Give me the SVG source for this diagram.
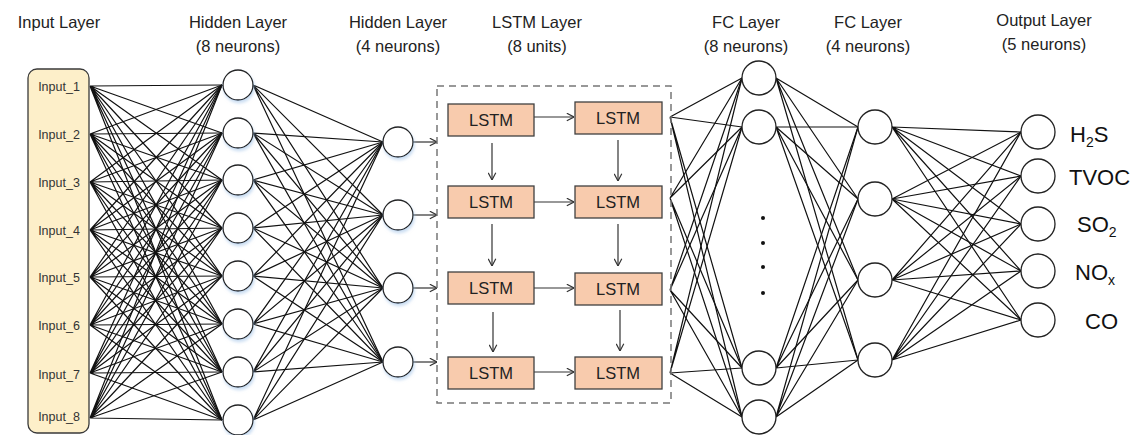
<svg xmlns="http://www.w3.org/2000/svg" width="1137" height="435" viewBox="0 0 1137 435">
<defs>
<style>
.t{font-family:"Liberation Sans",Arial,sans-serif;font-size:16.5px;fill:#222;text-anchor:middle}
.in{font-family:"Liberation Sans",Arial,sans-serif;font-size:12.5px;fill:#333;text-anchor:middle}
.out{font-family:"Liberation Sans",Arial,sans-serif;font-size:22px;fill:#111}
.sub{font-size:14px}
.lstm rect{fill:#f8cbad;stroke:#404040;stroke-width:1.3}
.lstm text{font-family:"Liberation Sans",Arial,sans-serif;font-size:16.5px;fill:#222;text-anchor:middle}
.n{fill:#fff;stroke:#222;stroke-width:1.3}
.sh{filter:url(#shadow)}
.c{fill:none;stroke:#111;stroke-width:1.2}
.a{fill:none;stroke:#333;stroke-width:1.2;marker-end:url(#arr)}
</style>
<filter id="shadow" x="-30%" y="-30%" width="160%" height="170%">
<feDropShadow dx="1" dy="2.5" stdDeviation="1.5" flood-color="#9cc0e6" flood-opacity="0.55"/>
</filter>
<marker id="arr" viewBox="0 0 10 10" refX="10" refY="5" markerWidth="9" markerHeight="9" markerUnits="userSpaceOnUse" orient="auto">
<path d="M2,0.8 L10,5 L2,9.2" fill="none" stroke="#333" stroke-width="1.3"/>
</marker>
</defs>
<rect width="1137" height="435" fill="#fff"/>

<g id="titles">
<text class="t" x="59" y="28">Input Layer</text>
<text class="t" x="238" y="28">Hidden Layer</text>
<text class="t" x="238" y="52">(8 neurons)</text>
<text class="t" x="398" y="28">Hidden Layer</text>
<text class="t" x="398" y="52">(4 neurons)</text>
<text class="t" x="537" y="28">LSTM Layer</text>
<text class="t" x="537" y="52">(8 units)</text>
<text class="t" x="746" y="28">FC Layer</text>
<text class="t" x="746" y="52">(8 neurons)</text>
<text class="t" x="868" y="28">FC Layer</text>
<text class="t" x="868" y="52">(4 neurons)</text>
<text class="t" x="1044" y="26">Output Layer</text>
<text class="t" x="1044" y="50">(5 neurons)</text>
</g>

<g id="connectors">
<path class="c" d="M90 86L222 85M90 86L222 133M90 86L222 180M90 86L222 228M90 86L222 276M90 86L222 324M90 86L222 372M90 86L222 420"/>
<path class="c" d="M90 134L222 85M90 134L222 133M90 134L222 180M90 134L222 228M90 134L222 276M90 134L222 324M90 134L222 372M90 134L222 420"/>
<path class="c" d="M90 182L222 85M90 182L222 133M90 182L222 180M90 182L222 228M90 182L222 276M90 182L222 324M90 182L222 372M90 182L222 420"/>
<path class="c" d="M90 230L222 85M90 230L222 133M90 230L222 180M90 230L222 228M90 230L222 276M90 230L222 324M90 230L222 372M90 230L222 420"/>
<path class="c" d="M90 277L222 85M90 277L222 133M90 277L222 180M90 277L222 228M90 277L222 276M90 277L222 324M90 277L222 372M90 277L222 420"/>
<path class="c" d="M90 325L222 85M90 325L222 133M90 325L222 180M90 325L222 228M90 325L222 276M90 325L222 324M90 325L222 372M90 325L222 420"/>
<path class="c" d="M90 373L222 85M90 373L222 133M90 373L222 180M90 373L222 228M90 373L222 276M90 373L222 324M90 373L222 372M90 373L222 420"/>
<path class="c" d="M90 418L222 85M90 418L222 133M90 418L222 180M90 418L222 228M90 418L222 276M90 418L222 324M90 418L222 372M90 418L222 420"/>

<path class="c" d="M253 85L383 142M253 85L383 215M253 85L383 288M253 85L383 362"/>
<path class="c" d="M253 133L383 142M253 133L383 215M253 133L383 288M253 133L383 362"/>
<path class="c" d="M253 180L383 142M253 180L383 215M253 180L383 288M253 180L383 362"/>
<path class="c" d="M253 228L383 142M253 228L383 215M253 228L383 288M253 228L383 362"/>
<path class="c" d="M253 276L383 142M253 276L383 215M253 276L383 288M253 276L383 362"/>
<path class="c" d="M253 324L383 142M253 324L383 215M253 324L383 288M253 324L383 362"/>
<path class="c" d="M253 372L383 142M253 372L383 215M253 372L383 288M253 372L383 362"/>
<path class="c" d="M253 420L383 142M253 420L383 215M253 420L383 288M253 420L383 362"/>

<path class="a" d="M413 142L437 142"/>
<path class="a" d="M413 215L437 215"/>
<path class="a" d="M413 288L437 288"/>
<path class="a" d="M413 362L437 362"/>

<path class="a" d="M534 117L574 117"/>
<path class="a" d="M534 202L574 202"/>
<path class="a" d="M534 288L574 288"/>
<path class="a" d="M534 372L574 372"/>
<path class="a" d="M492 143L492 180"/>
<path class="a" d="M492 224L492 266"/>
<path class="a" d="M493 312L493 352"/>
<path class="a" d="M618 140L618 181"/>
<path class="a" d="M618 224L618 266"/>
<path class="a" d="M620 310L620 351"/>

<path class="c" d="M670 117L742 78M670 117L742 127M670 117L742 368M670 117L742 417"/>
<path class="c" d="M670 198L742 78M670 198L742 127M670 198L742 368M670 198L742 417"/>
<path class="c" d="M670 290L742 78M670 290L742 127M670 290L742 368M670 290L742 417"/>
<path class="c" d="M670 373L742 78M670 373L742 127M670 373L742 368M670 373L742 417"/>

<path class="c" d="M776 78L858 127M776 78L858 199M776 78L858 280M776 78L858 360"/>
<path class="c" d="M776 127L858 127M776 127L858 199M776 127L858 280M776 127L858 360"/>
<path class="c" d="M776 368L858 127M776 368L858 199M776 368L858 280M776 368L858 360"/>
<path class="c" d="M776 417L858 127M776 417L858 199M776 417L858 280M776 417L858 360"/>

<path class="c" d="M892 127L1021 132M892 127L1021 176M892 127L1021 224M892 127L1021 271M892 127L1021 320"/>
<path class="c" d="M892 199L1021 132M892 199L1021 176M892 199L1021 224M892 199L1021 271M892 199L1021 320"/>
<path class="c" d="M892 280L1021 132M892 280L1021 176M892 280L1021 224M892 280L1021 271M892 280L1021 320"/>
<path class="c" d="M892 360L1021 132M892 360L1021 176M892 360L1021 224M892 360L1021 271M892 360L1021 320"/>
</g>

<g id="input-layer">
<rect x="28" y="69" width="61" height="364" rx="9" fill="#fdefc9" stroke="#3a3a3a" stroke-width="1.3"/>
<text class="in" x="59" y="91">Input_1</text>
<text class="in" x="59" y="139">Input_2</text>
<text class="in" x="59" y="187">Input_3</text>
<text class="in" x="59" y="235">Input_4</text>
<text class="in" x="59" y="282">Input_5</text>
<text class="in" x="59" y="330">Input_6</text>
<text class="in" x="59" y="379">Input_7</text>
<text class="in" x="59" y="421">Input_8</text>
</g>

<g id="hidden1" class="sh">
<circle class="n" cx="238" cy="85" r="15"/>
<circle class="n" cx="238" cy="133" r="15"/>
<circle class="n" cx="238" cy="180" r="15"/>
<circle class="n" cx="238" cy="228" r="15"/>
<circle class="n" cx="238" cy="276" r="15"/>
<circle class="n" cx="238" cy="324" r="15"/>
<circle class="n" cx="238" cy="372" r="15"/>
<circle class="n" cx="238" cy="420" r="15"/>
</g>

<g id="hidden2" class="sh">
<circle class="n" cx="398" cy="142" r="15"/>
<circle class="n" cx="398" cy="215" r="15"/>
<circle class="n" cx="398" cy="288" r="15"/>
<circle class="n" cx="398" cy="362" r="15"/>
</g>

<g id="lstm-layer">
<rect x="437" y="86" width="234" height="317" fill="none" stroke="#777" stroke-width="1.5" stroke-dasharray="7,5"/>
<g id="lstm11" class="lstm"><rect x="448" y="104" width="86" height="32"/><text x="491" y="126">LSTM</text></g>
<g id="lstm12" class="lstm"><rect x="575" y="102" width="87" height="32"/><text x="618" y="124">LSTM</text></g>
<g id="lstm21" class="lstm"><rect x="448" y="186" width="86" height="32"/><text x="491" y="208">LSTM</text></g>
<g id="lstm22" class="lstm"><rect x="575" y="186" width="87" height="32"/><text x="618" y="208">LSTM</text></g>
<g id="lstm31" class="lstm"><rect x="448" y="272" width="86" height="32"/><text x="491" y="294">LSTM</text></g>
<g id="lstm32" class="lstm"><rect x="575" y="273" width="87" height="32"/><text x="618" y="295">LSTM</text></g>
<g id="lstm41" class="lstm"><rect x="448" y="357" width="86" height="32"/><text x="491" y="379">LSTM</text></g>
<g id="lstm42" class="lstm"><rect x="575" y="357" width="87" height="32"/><text x="618" y="379">LSTM</text></g>
</g>

<g id="fc1">
<circle class="n" cx="759" cy="78" r="17"/>
<circle class="n" cx="759" cy="127" r="17"/>
<circle class="n" cx="759" cy="368" r="17"/>
<circle class="n" cx="759" cy="417" r="17"/>
<circle cx="763" cy="218" r="2" fill="#111"/>
<circle cx="763" cy="243" r="2" fill="#111"/>
<circle cx="763" cy="267" r="2" fill="#111"/>
<circle cx="763" cy="293" r="2" fill="#111"/>
</g>

<g id="fc2">
<circle class="n" cx="875" cy="127" r="17"/>
<circle class="n" cx="875" cy="199" r="17"/>
<circle class="n" cx="875" cy="280" r="17"/>
<circle class="n" cx="875" cy="360" r="17"/>
</g>

<g id="output-layer">
<circle class="n" cx="1038" cy="132" r="17"/>
<circle class="n" cx="1038" cy="176" r="17"/>
<circle class="n" cx="1038" cy="224" r="17"/>
<circle class="n" cx="1038" cy="271" r="17"/>
<circle class="n" cx="1038" cy="320" r="17"/>
<text class="out" x="1070" y="142">H<tspan class="sub" dy="5">2</tspan><tspan dy="-5">S</tspan></text>
<text class="out" x="1069" y="185">TVOC</text>
<text class="out" x="1077" y="232">SO<tspan class="sub" dy="5">2</tspan></text>
<text class="out" x="1075" y="280">NO<tspan class="sub" dy="5">x</tspan></text>
<text class="out" x="1085" y="329">CO</text>
</g>
</svg>
